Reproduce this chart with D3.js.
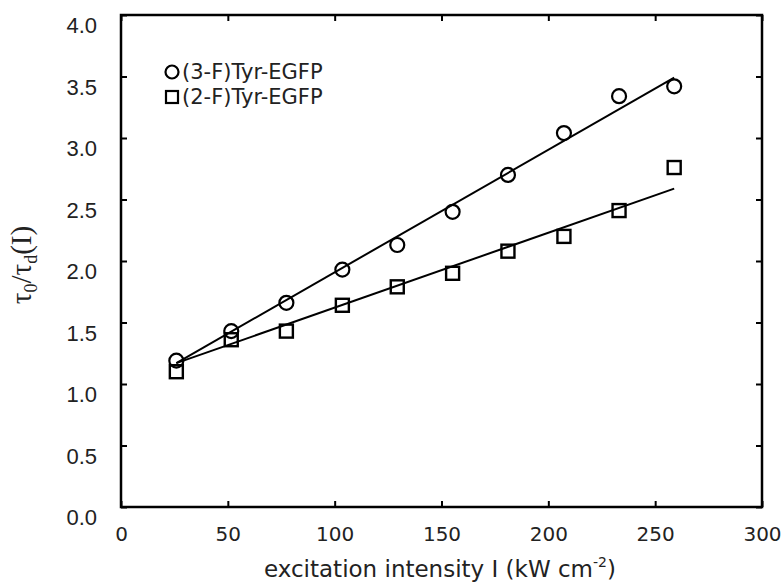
<!DOCTYPE html>
<html><head><meta charset="utf-8">
<script src="https://cdn.jsdelivr.net/npm/d3@7"></script>
<style>
body{margin:0;background:#fff;}
svg{display:block;}
</style></head>
<body><svg id="c" width="782" height="584"></svg>
<script>
// ---- data ----
const intensity = [25.9, 51.6, 77.4, 103.6, 129.3, 155.2, 181.1, 207.3, 233.1, 258.9];
const tyr3F = [1.19, 1.43, 1.66, 1.93, 2.13, 2.40, 2.70, 3.04, 3.34, 3.42];
const tyr2F = [1.10, 1.36, 1.43, 1.64, 1.79, 1.90, 2.08, 2.20, 2.41, 2.76];
const fit3F = {slope: 0.00996, intercept: 0.912};
const fit2F = {slope: 0.00609, intercept: 1.012};
const xTicks = [0, 50, 100, 150, 200, 250, 300];
const yTicks = [0.0, 0.5, 1.0, 1.5, 2.0, 2.5, 3.0, 3.5, 4.0];
const seriesNames = ["(3-F)Tyr-EGFP", "(2-F)Tyr-EGFP"];

const svg = d3.select("#c");
const L = 121, R = 762, T = 15, B = 507;
const x = d3.scaleLinear().domain([0, 300]).range([L, R]);
const y = d3.scaleLinear().domain([0, 4]).range([B, T]);

// frame
svg.append("rect").attr("x", L).attr("y", T).attr("width", R - L).attr("height", B - T)
  .attr("fill", "none").attr("stroke", "#000").attr("stroke-width", 2.5);

// axes with inward ticks
const tk = 6;
const gB = svg.append("g").attr("transform", `translate(0,${B})`)
  .call(d3.axisBottom(x).tickValues(xTicks).tickSize(-tk).tickPadding(20).tickFormat(d3.format("d")));
const gTop = svg.append("g").attr("transform", `translate(0,${T})`)
  .call(d3.axisTop(x).tickValues(xTicks).tickSize(-tk).tickFormat(""));
const gL = svg.append("g").attr("transform", `translate(${L},0)`)
  .call(d3.axisLeft(y).tickValues(yTicks).tickSize(-tk).tickPadding(24).tickFormat(d3.format(".1f")));
const gR = svg.append("g").attr("transform", `translate(${R},0)`)
  .call(d3.axisRight(y).tickValues(yTicks).tickSize(-tk).tickFormat(""));
[gB, gTop, gL, gR].forEach(g => {
  g.select(".domain").remove();
  g.attr("font-size", null).attr("font-family", null);
  g.selectAll(".tick line").attr("stroke", "#000").attr("stroke-width", 2);
});
gB.selectAll(".tick text").style("font-family", "'DejaVu Sans', Verdana, sans-serif")
  .style("font-size", "20px").attr("fill", "#222").attr("dy", "0.71em");
gL.selectAll(".tick text").style("font-family", "'Liberation Sans', Arial, sans-serif")
  .style("font-size", "22px").attr("fill", "#222").attr("dy", "0.8em");

// fit lines
function fitLine(f) {
  const x0 = d3.min(intensity), x1 = d3.max(intensity);
  return [[x0, f.intercept + f.slope * x0], [x1, f.intercept + f.slope * x1]];
}
const line = d3.line().x(d => x(d[0])).y(d => y(d[1]));
[fit3F, fit2F].forEach(f => {
  svg.append("path").attr("d", line(fitLine(f))).attr("fill", "none")
    .attr("stroke", "#000").attr("stroke-width", 2);
});

// markers
const rC = 7, sS = 13;
svg.append("g").selectAll("circle").data(intensity).join("circle")
  .attr("cx", d => x(d)).attr("cy", (d, i) => y(tyr3F[i])).attr("r", rC)
  .attr("fill", "none").attr("stroke", "#000").attr("stroke-width", 2.2);
svg.append("g").selectAll("rect").data(intensity).join("rect")
  .attr("x", d => x(d) - sS / 2).attr("y", (d, i) => y(tyr2F[i]) - sS / 2)
  .attr("width", sS).attr("height", sS)
  .attr("fill", "none").attr("stroke", "#000").attr("stroke-width", 2.4);

// legend
const lg = svg.append("g");
lg.append("circle").attr("cx", 172).attr("cy", 72).attr("r", 6.5)
  .attr("fill", "none").attr("stroke", "#000").attr("stroke-width", 2.2);
lg.append("rect").attr("x", 166).attr("y", 91).attr("width", 12).attr("height", 12)
  .attr("fill", "none").attr("stroke", "#000").attr("stroke-width", 2.2);
lg.selectAll("text").data(seriesNames).join("text")
  .attr("x", 182).attr("y", (d, i) => 79 + i * 25)
  .style("font-family", "'DejaVu Sans', Verdana, sans-serif").style("font-size", "21px")
  .attr("fill", "#222")
  .text(d => d);

// x title
const xt = svg.append("text").attr("x", 440).attr("y", 577).attr("text-anchor", "middle")
  .style("font-family", "'DejaVu Sans', Verdana, sans-serif").style("font-size", "23px").attr("fill", "#222");
xt.append("tspan").text("excitation intensity I (kW cm");
xt.append("tspan").attr("dy", -10).style("font-size", "14px").text("-2");
xt.append("tspan").attr("dy", 10).text(")");

// y title
const yt = svg.append("text").attr("transform", "translate(31,265) rotate(-90)")
  .attr("text-anchor", "middle").style("font-family", "'Liberation Serif', 'Times New Roman', serif")
  .style("font-size", "29px").attr("fill", "#222");
yt.append("tspan").text("τ");
yt.append("tspan").attr("dy", 6).style("font-size", "18px").text("0");
yt.append("tspan").attr("dy", -6).text("/τ");
yt.append("tspan").attr("dy", 6).style("font-size", "18px").text("d");
yt.append("tspan").attr("dy", -6).text("(I)");
</script></body></html>
